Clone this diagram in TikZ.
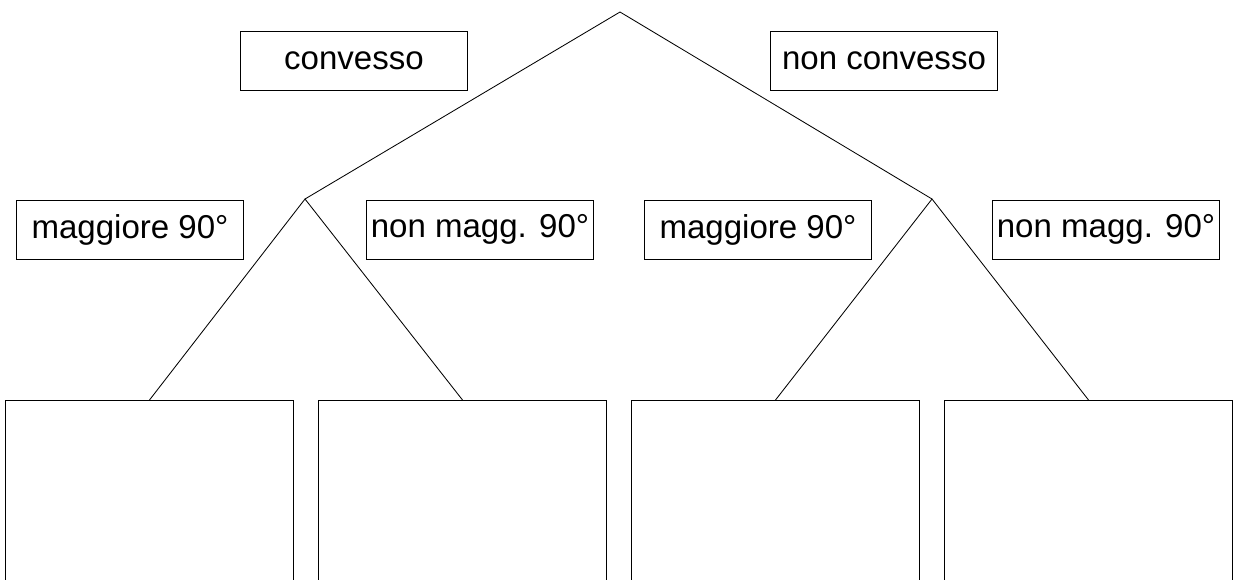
\documentclass[tikz,border=0pt]{standalone}
\usepackage{fontspec}
\setmainfont{Liberation Sans}
\usepackage{tikz}
\usetikzlibrary{arrows,positioning,calc}
\tikzset{
  lab/.style={draw,line width=0.7pt,minimum width=5.675cm,minimum height=1.475cm,inner sep=0pt,font=\fontsize{23.5}{28}\selectfont},
  leaf/.style={draw,line width=0.7pt,minimum width=7.175cm,minimum height=5cm,inner sep=0pt,anchor=north},
  edge/.style={line width=0.6pt}
}
\begin{document}
\begin{tikzpicture}[x=0.025cm,y=-0.025cm]
            \clip (0,0) rectangle (1240,579);
            \coordinate (top) at (620,12);
            \coordinate (conv) at (305,199);
            \coordinate (nconv) at (932,199);
            \node [lab] (c) at (354,60.5) {convesso};
            \node [lab] (nc) at (884,60.5) {non convesso};
            \node [lab] (c1) at (130,229.5) {maggiore 90°};
            \node [lab] (c2) at (480,229.5) {non magg. 90°};
            \node [lab] (nc1) at (758,229.5) {maggiore 90°};
            \node [lab] (nc2) at (1106,229.5) {non magg. 90°};
            \node [leaf] (l1) at (149.5,400) {};
            \node [leaf] (l2) at (462.5,400) {};
            \node [leaf] (l3) at (775.5,400) {};
            \node [leaf] (l4) at (1088.5,400) {};
            \draw [edge] (conv) -- (top) -- (nconv);
            \draw [edge] (l1.north) -- (conv) -- (l2.north);
            \draw [edge] (l3.north) -- (nconv) -- (l4.north);
\end{tikzpicture}
\end{document}
